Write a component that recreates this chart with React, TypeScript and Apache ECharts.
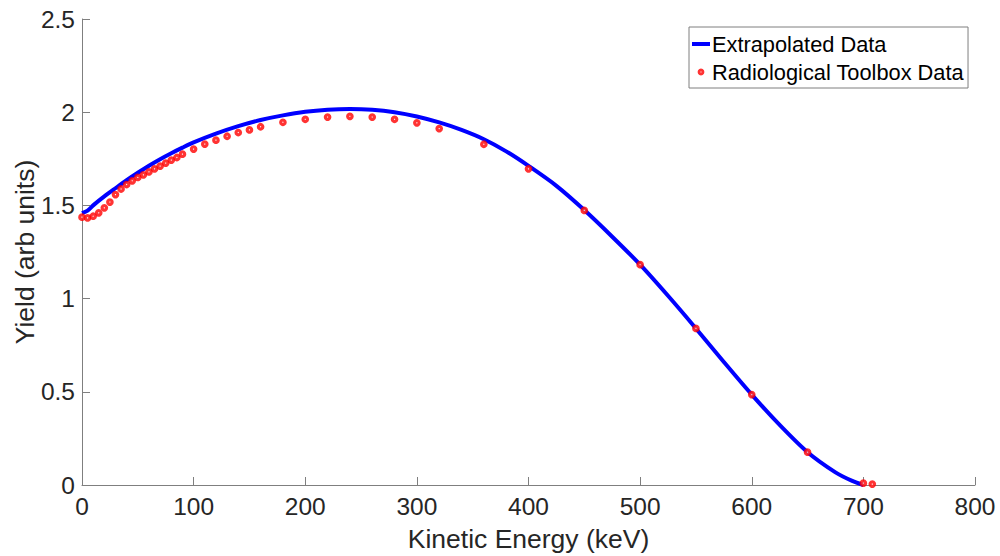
import React, { useEffect, useRef } from "react";
import * as echarts from "echarts";

const xTicks = [0, 100, 200, 300, 400, 500, 600, 700, 800];
const yTicks = [0, 0.5, 1, 1.5, 2, 2.5];

const fitEnergy = [0, 5, 10, 20, 30, 40, 50, 60, 70, 80, 90, 100, 120, 140, 160, 180, 200, 220, 240, 260, 280, 300, 320, 340, 360, 380, 400, 425, 450, 475, 500, 525, 550, 575, 600, 625, 650, 675, 690, 700];
const fitYield = [1.458, 1.472, 1.5, 1.548, 1.592, 1.635, 1.675, 1.713, 1.748, 1.78, 1.81, 1.838, 1.885, 1.925, 1.958, 1.983, 2.002, 2.013, 2.017, 2.013, 2.0, 1.977, 1.945, 1.905, 1.855, 1.79, 1.712, 1.605, 1.475, 1.332, 1.182, 1.015, 0.84, 0.66, 0.485, 0.322, 0.176, 0.068, 0.022, 0.0];

const toolboxEnergy = [0, 5, 10, 15, 20, 25, 30, 35, 40, 45, 50, 55, 60, 65, 70, 75, 80, 85, 90, 100, 110, 120, 130, 140, 150, 160, 180, 200, 220, 240, 260, 280, 300, 320, 360, 400, 450, 500, 550, 600, 650, 700, 708];
const toolboxYield = [1.437, 1.433, 1.442, 1.46, 1.487, 1.518, 1.558, 1.588, 1.612, 1.632, 1.65, 1.664, 1.68, 1.696, 1.711, 1.727, 1.743, 1.757, 1.775, 1.802, 1.829, 1.85, 1.871, 1.891, 1.905, 1.922, 1.946, 1.962, 1.974, 1.978, 1.974, 1.962, 1.943, 1.912, 1.828, 1.696, 1.473, 1.182, 0.84, 0.485, 0.176, 0.01, 0.005];

const FONT = "'Liberation Sans', Arial, Helvetica, sans-serif";

export default function App() {
  const ref = useRef<HTMLDivElement>(null);
  useEffect(() => {
    if (!ref.current) return;
    const chart = echarts.init(ref.current, null, { renderer: "svg" });
    const axisLine = { show: true, lineStyle: { color: "#7f7f7f", width: 1 } };
    chart.setOption({
      animation: false,
      backgroundColor: "#ffffff",
      grid: { left: 82, right: 25, top: 19, bottom: 71, containLabel: false, outerBoundsMode: "none" },
      legend: {
        orient: "vertical",
        left: 689,
        top: 27,
        padding: [6, 4, 5, 3],
        itemGap: 6,
        itemWidth: 18,
        itemHeight: 4,
        borderColor: "#7f7f7f",
        borderWidth: 1,
        backgroundColor: "#ffffff",
        textStyle: { fontFamily: FONT, fontSize: 21.8, color: "#000000", padding: [0, 0, 0, -3] },
        data: [
          { name: "Extrapolated Data", icon: "rect", itemStyle: { color: "#0000ff", borderWidth: 0 } },
          { name: "Radiological Toolbox Data", icon: "circle", itemStyle: { color: "#ffffff", borderColor: "#ff0000", borderWidth: 2.8 } },
        ],
      },
      xAxis: {
        type: "value",
        min: xTicks[0],
        max: xTicks[xTicks.length - 1],
        interval: 100,
        name: "Kinetic Energy (keV)",
        nameLocation: "middle",
        nameGap: 40,
        nameTextStyle: { fontFamily: FONT, fontSize: 26.5, color: "#262626" },
        axisLine,
        axisTick: { show: true, inside: true, length: 8, lineStyle: { color: "#7f7f7f" } },
        axisLabel: { fontFamily: FONT, fontSize: 24.5, color: "#262626", margin: 9 },
        splitLine: { show: false },
      },
      yAxis: {
        type: "value",
        min: yTicks[0],
        max: yTicks[yTicks.length - 1],
        interval: 0.5,
        name: "Yield (arb units)",
        nameLocation: "middle",
        nameGap: 44,
        nameMoveOverlap: false,
        nameTextStyle: { fontFamily: FONT, fontSize: 26.5, color: "#262626" },
        axisLine,
        axisTick: { show: true, inside: true, length: 8, lineStyle: { color: "#7f7f7f" } },
        axisLabel: { fontFamily: FONT, fontSize: 24.5, color: "#262626", margin: 7 },
        splitLine: { show: false },
      },
      series: [
        {
          name: "Extrapolated Data",
          type: "line",
          data: fitEnergy.map((e, i) => [e, fitYield[i]]),
          smooth: 0.3,
          showSymbol: false,
          symbol: "none",
          lineStyle: { color: "#0000ff", width: 4 },
          itemStyle: { color: "#0000ff" },
          z: 2,
        },
        {
          name: "Radiological Toolbox Data",
          type: "scatter",
          data: toolboxEnergy.map((e, i) => [e, toolboxYield[i]]),
          symbol: "circle",
          symbolSize: 4.5,
          itemStyle: { color: "#ffffff", borderColor: "#ff0000", borderWidth: 3.2 },
          z: 3,
        },
      ],
    });
    return () => chart.dispose();
  }, []);
  return <div ref={ref} style={{ width: 1000, height: 556, position: "absolute", left: 0, top: 0 }} />;
}
